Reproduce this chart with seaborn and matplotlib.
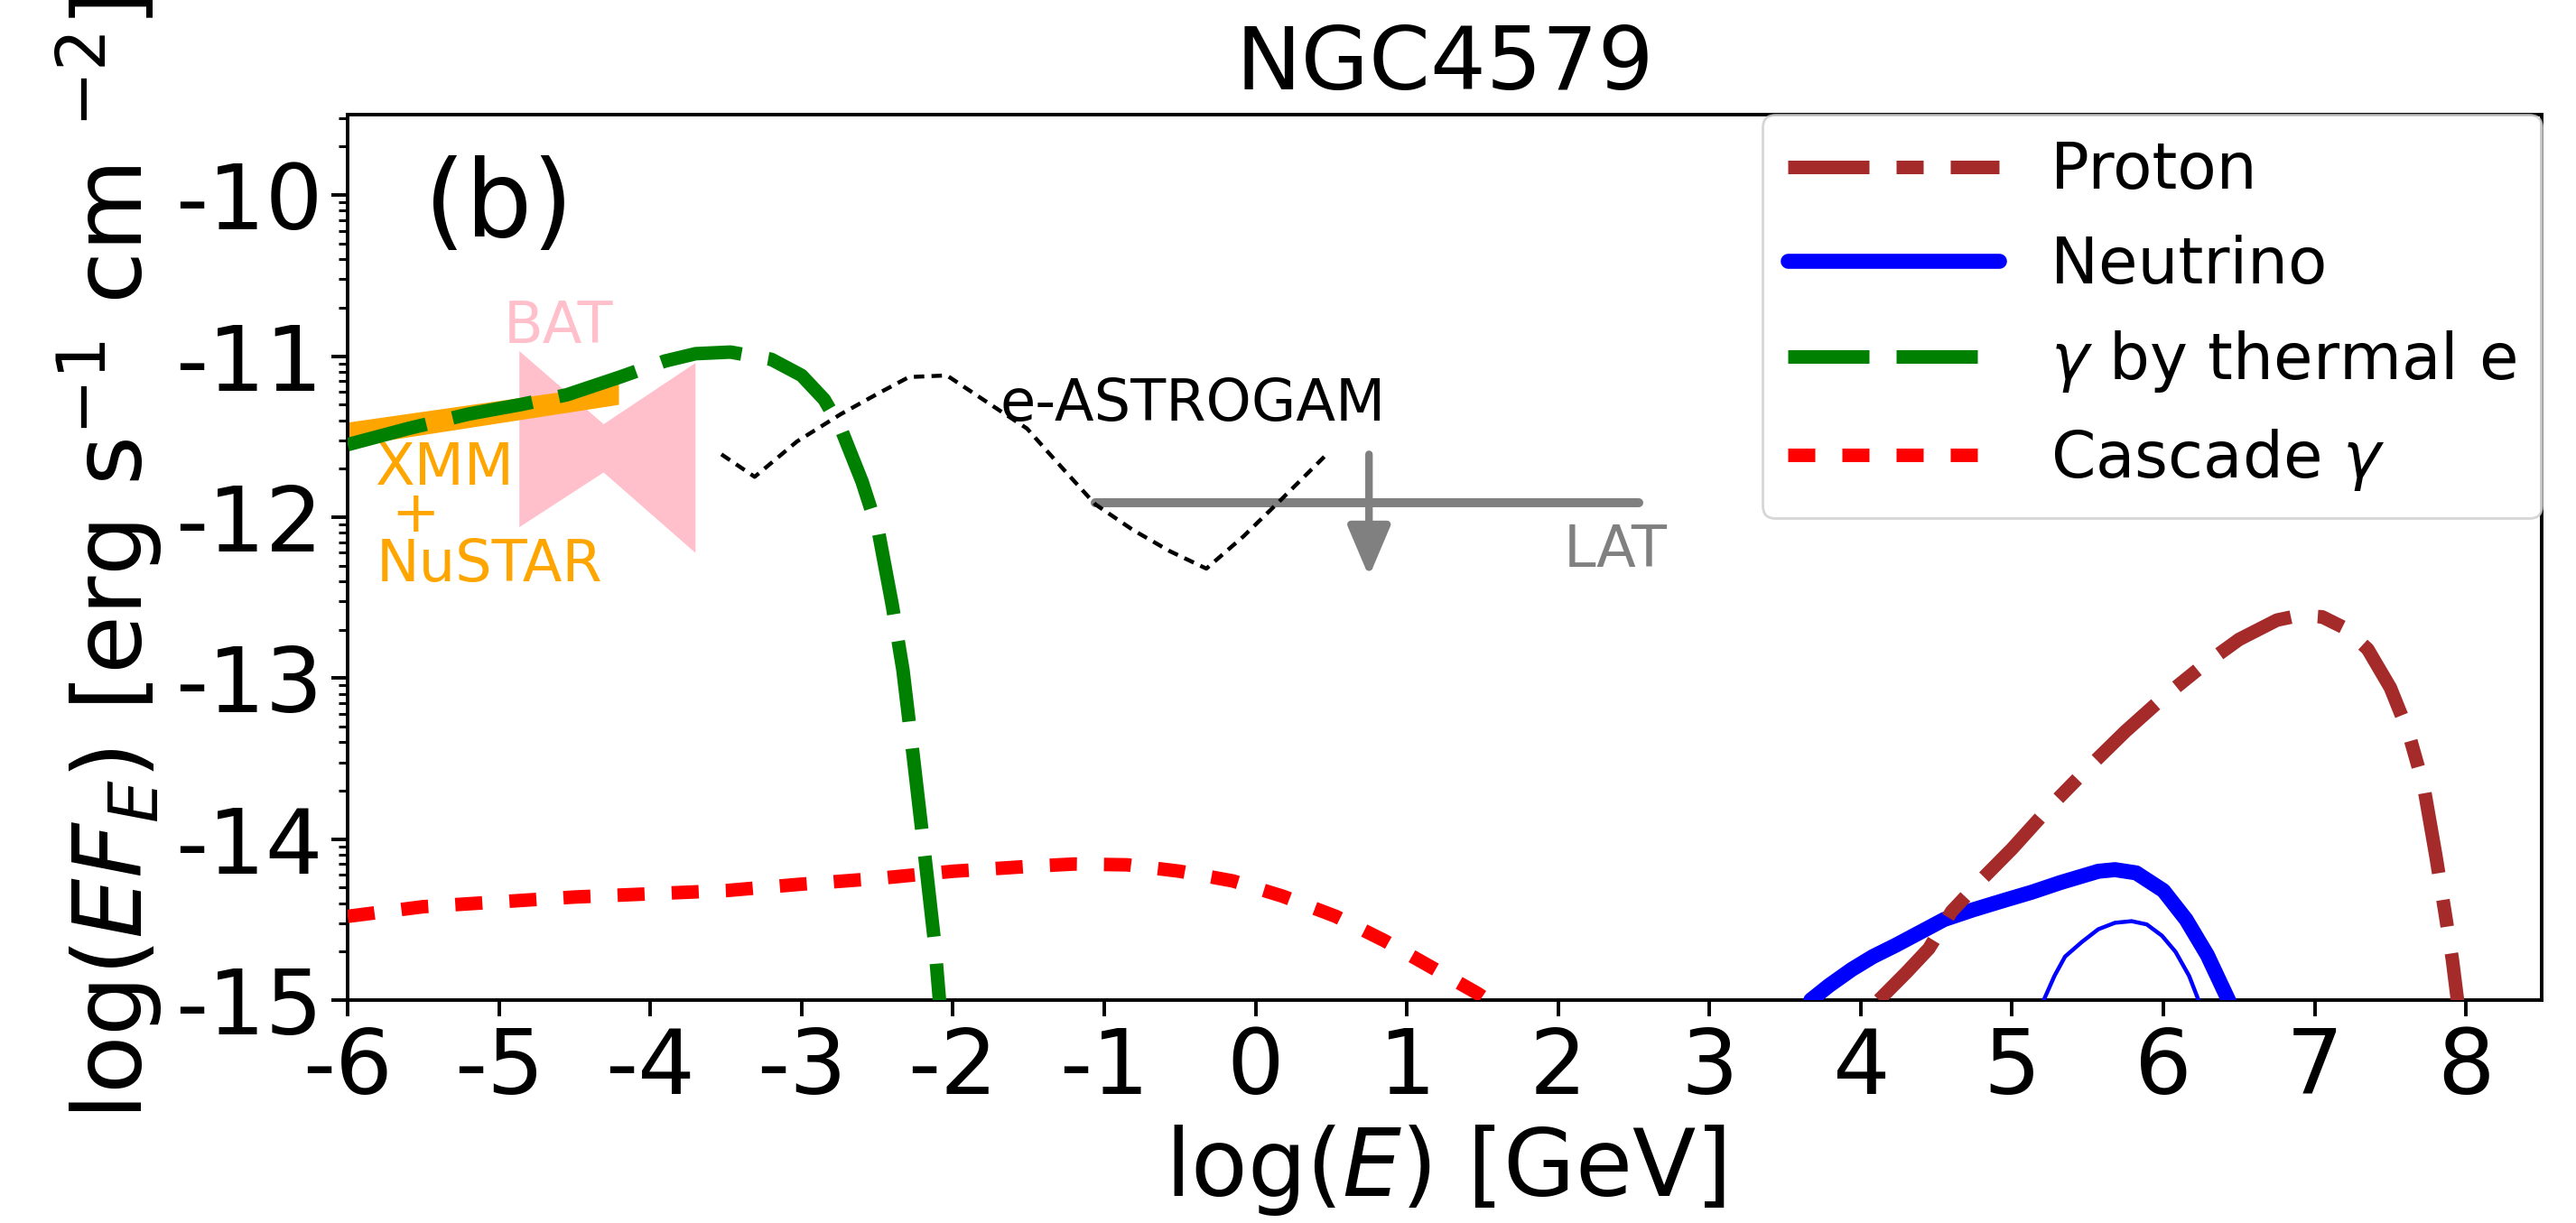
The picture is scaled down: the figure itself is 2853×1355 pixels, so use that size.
import numpy as np
import matplotlib
matplotlib.use("Agg")
import matplotlib.pyplot as plt
from matplotlib.ticker import FuncFormatter, LogLocator, NullFormatter
import seaborn as sns

# ---------------- data: log10(E/GeV) and log10(E F_E / erg s^-1 cm^-2) ----------------
proton_logE = [4.12, 4.30, 4.45, 4.60, 4.80, 5.00, 5.25, 5.50, 5.75, 6.00, 6.25, 6.50,
               6.75, 6.90, 7.05, 7.20, 7.35, 7.50, 7.62, 7.72, 7.80, 7.86, 7.91, 7.95]
proton_logF = [-15.0, -14.83, -14.68, -14.45, -14.25, -14.06, -13.80, -13.56, -13.33, -13.12,
               -12.93, -12.76, -12.64, -12.61, -12.62, -12.69, -12.82, -13.06, -13.34, -13.67,
               -14.10, -14.45, -14.75, -15.05]

nu_logE = [3.67, 3.79, 3.94, 4.08, 4.23, 4.41, 4.55, 4.74, 4.95, 5.13, 5.32, 5.57, 5.68,
           5.82, 6.00, 6.15, 6.29, 6.44]
nu_logF = [-15.0, -14.91, -14.81, -14.73, -14.66, -14.57, -14.50, -14.44, -14.38, -14.33,
           -14.27, -14.20, -14.19, -14.21, -14.32, -14.50, -14.72, -15.02]

nu2_logE = [5.20, 5.28, 5.35, 5.46, 5.57, 5.68, 5.79, 5.89, 5.99, 6.08, 6.17, 6.24]
nu2_logF = [-15.02, -14.85, -14.73, -14.64, -14.56, -14.52, -14.51, -14.53, -14.60, -14.70,
            -14.85, -15.02]

thermal_logE = [-6.0, -5.6, -5.2, -4.85, -4.55, -4.2, -3.9, -3.7, -3.47, -3.2, -3.0, -2.85,
                -2.74, -2.6, -2.49, -2.40, -2.33, -2.26, -2.18, -2.12, -2.08]
thermal_logF = [-11.55, -11.45, -11.36, -11.30, -11.24, -11.13, -11.03, -10.985, -10.975,
                -11.02, -11.12, -11.27, -11.45, -11.78, -12.10, -12.55, -12.95, -13.50,
                -14.15, -14.65, -15.1]

cascade_logE = [-6.0, -5.5, -5.0, -4.5, -4.0, -3.5, -3.0, -2.5, -2.0, -1.5, -1.2, -0.85, -0.5,
                -0.15, 0.18, 0.53, 0.85, 1.17, 1.47, 1.58]
cascade_logF = [-14.48, -14.42, -14.39, -14.36, -14.34, -14.32, -14.28, -14.245, -14.20,
                -14.17, -14.155, -14.16, -14.20, -14.26, -14.355, -14.48, -14.63, -14.80,
                -14.96, -15.03]

eastrogam_logE = [-3.53, -3.31, -3.03, -2.74, -2.49, -2.29, -2.04, -1.72, -1.51, -1.33, -1.06,
                  -0.81, -0.57, -0.325, -0.08, 0.16, 0.46]
eastrogam_logF = [-11.61, -11.75, -11.53, -11.36, -11.23, -11.13, -11.12, -11.32, -11.45,
                  -11.64, -11.92, -12.08, -12.21, -12.32, -12.12, -11.90, -11.62]

xmm_logE = [-6.0, -4.21]
xmm_logF_hi = [-11.41, -11.17]
xmm_logF_lo = [-11.56, -11.30]

bat_logE = [-4.868, -4.311, -3.704]
bat_logF_hi = [-10.966, -11.42, -11.04]
bat_logF_lo = [-12.06, -11.72, -12.22]

lat_logE = [-1.06, 2.53]
lat_logF = [-11.91, -11.91]
lat_arrow_logE = 0.75
lat_arrow_logF = [-11.61, -12.37]

legend_labels = ["Proton", "Neutrino", r"$\gamma$ by thermal e", r"Cascade $\gamma$"]
xticks = list(range(-6, 9))

# ---------------- style ----------------
sns.set_theme(style="white")
plt.rcParams["font.family"] = ["DejaVu Sans"]
plt.rcParams["mathtext.fontset"] = "dejavusans"
plt.rcParams["axes.unicode_minus"] = False
plt.rcParams["text.color"] = "black"
plt.rcParams["axes.labelcolor"] = "black"
plt.rcParams["xtick.color"] = "black"
plt.rcParams["ytick.color"] = "black"
plt.rcParams["axes.edgecolor"] = "black"
plt.rcParams["axes.linewidth"] = 1.4


def lin(v):
    return np.power(10.0, np.asarray(v, dtype=float))


fig = plt.figure(figsize=(14.265, 6.775), dpi=200)
ax = fig.add_axes([0.13495, 0.18229, 0.85173, 0.72399])
ax.set_yscale("log")

# measurements
ax.fill_between(bat_logE, lin(bat_logF_lo), lin(bat_logF_hi), color="pink", lw=0, zorder=1)
ax.fill_between(xmm_logE, lin(xmm_logF_lo), lin(xmm_logF_hi), color="orange", lw=0, zorder=2)


def line(x, y, **kw):
    sns.lineplot(x=np.asarray(x, dtype=float), y=lin(y), ax=ax, sort=False,
                 estimator=None, legend=False, **kw)
    return ax.lines[-1]


LW = 5.4
h_r = line(cascade_logE, cascade_logF, color="red", lw=LW, linestyle=(0, (2, 2)), zorder=3)
h_g = line(thermal_logE, thermal_logF, color="green", lw=LW, linestyle=(0, (6, 2)), zorder=4)
h_n = line(nu_logE, nu_logF, color="blue", lw=6.0, linestyle="-", zorder=4)
line(nu2_logE, nu2_logF, color="blue", lw=1.6, linestyle="-", zorder=4)
h_p = line(proton_logE, proton_logF, color="brown", lw=LW, linestyle=(0, (6, 2, 2, 2)), zorder=5)

line(lat_logE, lat_logF, color="gray", lw=3.6, linestyle="-", zorder=5)
ax.annotate("", xy=(lat_arrow_logE, lin(lat_arrow_logF[1])),
            xytext=(lat_arrow_logE, lin(lat_arrow_logF[0])),
            arrowprops=dict(arrowstyle="-|>,head_length=0.85,head_width=0.36", color="gray",
                            lw=3.0, shrinkA=0, shrinkB=0, mutation_scale=20), zorder=5)
line(eastrogam_logE, eastrogam_logF, color="black", lw=1.6, linestyle=(0, (2.6, 1.8)), zorder=6)

# annotations
TXT = 23
ax.text(-4.605, lin(-10.92), "BAT", color="pink", fontsize=TXT, ha="center", va="baseline")
ax.text(-5.82, lin(-11.80), "XMM", color="orange", fontsize=TXT, ha="left", va="baseline")
ax.text(-5.55, lin(-12.09), "+", color="orange", fontsize=TXT, ha="center", va="baseline")
ax.text(-5.81, lin(-12.40), "NuSTAR", color="orange", fontsize=TXT, ha="left", va="baseline")
ax.text(-1.69, lin(-11.40), "e-ASTROGAM", color="black", fontsize=TXT, ha="left", va="baseline")
ax.text(2.38, lin(-12.31), "LAT", color="gray", fontsize=TXT, ha="center", va="baseline")
ax.text(0.069, 0.896, "(b)", transform=ax.transAxes, fontsize=42, ha="center", va="center",
        color="black")

# axes
ax.set_xlim(-6, 8.5)
ax.set_ylim(1e-15, 10 ** -9.5)
ax.set_xticks(xticks)
ax.set_xticklabels([str(t) for t in xticks])
ax.yaxis.set_major_locator(LogLocator(base=10, numticks=20))
ax.yaxis.set_minor_locator(LogLocator(base=10, subs=np.arange(2, 10), numticks=20))
ax.yaxis.set_major_formatter(FuncFormatter(lambda v, p: f"{int(round(np.log10(v)))}"))
ax.yaxis.set_minor_formatter(NullFormatter())
ax.tick_params(axis="both", which="major", direction="out", length=6.5, width=1.4,
               labelsize=36, colors="black", bottom=True, left=True, top=False, right=False)
ax.tick_params(axis="y", which="minor", direction="out", length=3.6, width=1.1, left=True,
               colors="black")
for s in ax.spines.values():
    s.set_color("black")
    s.set_linewidth(1.4)

ax.set_xlabel(r"log($E$) [GeV]", fontsize=37, color="black")
ax.set_ylabel(r"log($EF_E$) [erg s$^{-1}$ cm $^{-2}$]", fontsize=38, color="black")
ax.set_title("NGC4579", fontsize=35, pad=10, color="black")

leg = ax.legend(handles=[h_p, h_n, h_g, h_r], labels=legend_labels, loc="upper right",
                borderaxespad=0, fontsize=25.5, handlelength=3.3, frameon=True)
leg.get_frame().set_edgecolor("0.8")
for t in leg.get_texts():
    t.set_color("black")

fig.savefig("out.png", dpi=200, facecolor="white")
